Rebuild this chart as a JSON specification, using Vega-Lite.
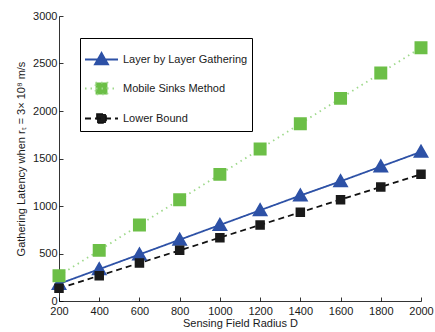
{
  "$schema": "https://vega.github.io/schema/vega-lite/v6.json",
  "width": 362,
  "height": 285,
  "autosize": "none",
  "padding": {"left": 59, "top": 16, "right": 14, "bottom": 31},
  "background": "white",
  "config": {
    "view": {"stroke": null},
    "font": "Liberation Sans",
    "axis": {
      "grid": false,
      "domainColor": "#000000",
      "domainWidth": 0.8,
      "tickColor": "#000000",
      "tickWidth": 0.8,
      "tickSize": -4,
      "labelFont": "Liberation Sans",
      "labelFontSize": 11,
      "labelColor": "#1a1a1a",
      "labelOverlap": false,
      "titleFont": "Liberation Sans",
      "titleFontSize": 11,
      "titleFontWeight": "normal",
      "titleColor": "#1a1a1a"
    }
  },
  "data": {
    "values": [
      {"D": 200, "latency": 180, "series": "Layer by Layer Gathering"},
      {"D": 400, "latency": 335, "series": "Layer by Layer Gathering"},
      {"D": 600, "latency": 490, "series": "Layer by Layer Gathering"},
      {"D": 800, "latency": 645, "series": "Layer by Layer Gathering"},
      {"D": 1000, "latency": 800, "series": "Layer by Layer Gathering"},
      {"D": 1200, "latency": 955, "series": "Layer by Layer Gathering"},
      {"D": 1400, "latency": 1110, "series": "Layer by Layer Gathering"},
      {"D": 1600, "latency": 1260, "series": "Layer by Layer Gathering"},
      {"D": 1800, "latency": 1415, "series": "Layer by Layer Gathering"},
      {"D": 2000, "latency": 1570, "series": "Layer by Layer Gathering"},
      {"D": 200, "latency": 267, "series": "Mobile Sinks Method"},
      {"D": 400, "latency": 533, "series": "Mobile Sinks Method"},
      {"D": 600, "latency": 800, "series": "Mobile Sinks Method"},
      {"D": 800, "latency": 1067, "series": "Mobile Sinks Method"},
      {"D": 1000, "latency": 1333, "series": "Mobile Sinks Method"},
      {"D": 1200, "latency": 1600, "series": "Mobile Sinks Method"},
      {"D": 1400, "latency": 1867, "series": "Mobile Sinks Method"},
      {"D": 1600, "latency": 2133, "series": "Mobile Sinks Method"},
      {"D": 1800, "latency": 2400, "series": "Mobile Sinks Method"},
      {"D": 2000, "latency": 2667, "series": "Mobile Sinks Method"},
      {"D": 200, "latency": 133, "series": "Lower Bound"},
      {"D": 400, "latency": 267, "series": "Lower Bound"},
      {"D": 600, "latency": 400, "series": "Lower Bound"},
      {"D": 800, "latency": 533, "series": "Lower Bound"},
      {"D": 1000, "latency": 667, "series": "Lower Bound"},
      {"D": 1200, "latency": 800, "series": "Lower Bound"},
      {"D": 1400, "latency": 933, "series": "Lower Bound"},
      {"D": 1600, "latency": 1067, "series": "Lower Bound"},
      {"D": 1800, "latency": 1200, "series": "Lower Bound"},
      {"D": 2000, "latency": 1333, "series": "Lower Bound"}
    ]
  },
  "encoding": {
    "x": {
      "field": "D",
      "type": "quantitative",
      "title": "Sensing Field Radius D",
      "scale": {"domain": [200, 2000], "nice": false, "zero": false},
      "axis": {"values": [200, 400, 600, 800, 1000, 1200, 1400, 1600, 1800, 2000], "format": "d", "labelPadding": 8, "titlePadding": 1, "labelFlush": false}
    },
    "y": {
      "field": "latency",
      "type": "quantitative",
      "title": "Gathering Latency when rₜ = 3× 10⁸ m/s",
      "scale": {"domain": [0, 3000], "nice": false},
      "axis": {"values": [0, 500, 1000, 1500, 2000, 2500, 3000], "format": "d", "labelPadding": 6, "titlePadding": 6}
    }
  },
  "layer": [
    {
      "mark": {"type": "line", "strokeWidth": 1.8},
      "encoding": {
        "stroke": {
          "field": "series",
          "type": "nominal",
          "scale": {
            "domain": ["Layer by Layer Gathering", "Mobile Sinks Method", "Lower Bound"],
            "range": ["#2d51a6", "#9fd98c", "#111111"]
          }
        },
        "strokeDash": {
          "field": "series",
          "type": "nominal",
          "scale": {
            "domain": ["Layer by Layer Gathering", "Mobile Sinks Method", "Lower Bound"],
            "range": [[1, 0], [1.5, 4], [6, 4]]
          }
        }
      }
    },
    {
      "mark": {"type": "point", "filled": true, "opacity": 1, "strokeWidth": 0},
      "encoding": {
        "color": {
          "field": "series",
          "type": "nominal",
          "scale": {
            "domain": ["Layer by Layer Gathering", "Mobile Sinks Method", "Lower Bound"],
            "range": ["#2d51a6", "#6cbf47", "#1a1a1a"]
          },
          "legend": {
            "title": null,
            "orient": "none",
            "legendX": 21,
            "legendY": 22,
            "strokeColor": "#000000",
            "fillColor": "#ffffff",
            "padding": 4,
            "rowPadding": 2,
            "labelFont": "Liberation Sans",
            "labelFontSize": 11,
            "labelColor": "#1a1a1a",
            "labelOffset": 4,
            "symbolSize": 1089,
            "symbolStrokeWidth": 1.8,
            "symbolOpacity": 1
          }
        },
        "shape": {
          "field": "series",
          "type": "nominal",
          "scale": {
            "domain": ["Layer by Layer Gathering", "Mobile Sinks Method", "Lower Bound"],
            "range": [
              "M-1,0L1,0M0,-0.4L0.4,0.3L-0.4,0.3Z",
              "M-1,0L1,0M-0.36,-0.36L0.36,-0.36L0.36,0.36L-0.36,0.36Z",
              "M-1,0L1,0M-0.27,-0.27L0.27,-0.27L0.27,0.27L-0.27,0.27Z"
            ]
          }
        },
        "size": {
          "condition": [
            {"test": "datum.series === 'Lower Bound'", "value": 1240},
            {"test": "datum.series === 'Mobile Sinks Method'", "value": 1300}
          ],
          "value": 1600
        }
      }
    }
  ]
}
